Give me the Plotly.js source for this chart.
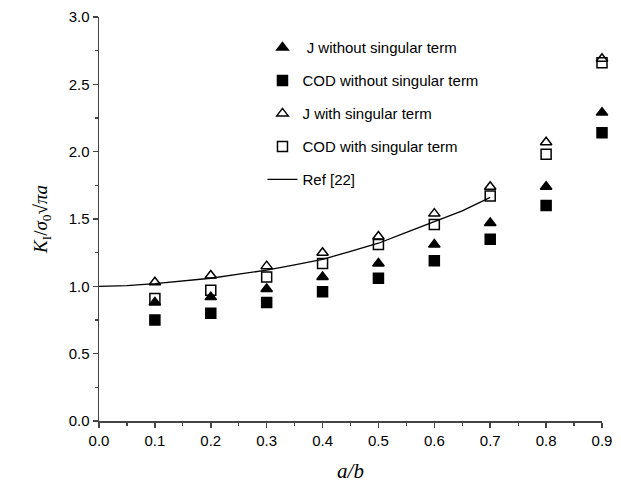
<!DOCTYPE html>
<html>
<head>
<meta charset="utf-8">
<script src="https://cdn.plot.ly/plotly-3.0.1.min.js"></script>
<style>html,body{margin:0;padding:0;background:#fff;}#chart{width:621px;height:489px;}</style>
</head>
<body>
<div id="chart"></div>
<script>
// a/b values
const ab = [0.1, 0.2, 0.3, 0.4, 0.5, 0.6, 0.7, 0.8, 0.9];
const jWithout   = [0.88, 0.92, 0.98, 1.07, 1.17, 1.31, 1.47, 1.74, 2.29];
const codWithout = [0.75, 0.80, 0.88, 0.96, 1.06, 1.19, 1.35, 1.60, 2.14];
const jWith      = [1.03, 1.08, 1.15, 1.25, 1.37, 1.54, 1.74, 2.07, 2.69];
const codWith    = [0.91, 0.97, 1.07, 1.17, 1.31, 1.46, 1.67, 1.98, 2.66];
// Ref [22] curve
const refX = [0, 0.05, 0.1, 0.15, 0.2, 0.25, 0.3, 0.35, 0.4, 0.45, 0.5, 0.55, 0.6, 0.65, 0.7];
const refY = [1.00, 1.005, 1.02, 1.04, 1.06, 1.09, 1.12, 1.16, 1.20, 1.26, 1.32, 1.40, 1.48, 1.56, 1.66];
const names = [' J without singular term', 'COD without singular term', 'J with singular term', 'COD with singular term', 'Ref [22]'];

const mk = (sym) => ({symbol: sym, size: 10, color: '#000', line: {color: '#000', width: 1.5}});
const traces = [
  {x: ab, y: jWithout, name: names[0], mode: 'markers', marker: mk('triangle-up'), legendgroup: 'a', cliponaxis: false},
  {x: ab, y: codWithout, name: names[1], mode: 'markers', marker: mk('square'), legendgroup: 'b', cliponaxis: false},
  {x: ab, y: jWith, name: names[2], mode: 'markers', marker: mk('triangle-up-open'), legendgroup: 'c', cliponaxis: false},
  {x: ab, y: codWith, name: names[3], mode: 'markers', marker: mk('square-open'), legendgroup: 'd', cliponaxis: false},
  {x: refX, y: refY, name: names[4], mode: 'lines', line: {color: '#000', width: 1.3}, legendgroup: 'e', cliponaxis: false}
];

const layout = {
  width: 621, height: 489,
  margin: {l: 99, r: 19, t: 17, b: 68},
  paper_bgcolor: '#fff', plot_bgcolor: '#fff',
  font: {family: 'Liberation Sans, Arial, sans-serif', size: 15, color: '#000'},
  showlegend: true,
  legend: {
    x: 0.325, y: 0.965, xanchor: 'left', yanchor: 'top',
    bgcolor: 'rgba(0,0,0,0)', borderwidth: 0,
    font: {family: 'Liberation Sans, Arial, sans-serif', size: 15, color: '#000'},
    traceorder: 'grouped', tracegroupgap: 10.5
  },
  xaxis: {
    range: [0, 0.9], tickvals: [0,0.1,0.2,0.3,0.4,0.5,0.6,0.7,0.8,0.9],
    ticktext: ['0.0','0.1','0.2','0.3','0.4','0.5','0.6','0.7','0.8','0.9'],
    showgrid: false, zeroline: false, showline: true, linecolor: '#444', linewidth: 1.5,
    ticks: 'outside', ticklen: 5, tickcolor: '#444', tickwidth: 1.5,
    minor: {dtick: 0.05, ticks: 'outside', ticklen: 3, tickcolor: '#444', tickwidth: 1.2},
    tickfont: {size: 15},
    title: {text: '<i>a/b</i>', font: {family: 'Liberation Serif, Times New Roman, serif', size: 21}, standoff: 16}
  },
  yaxis: {
    range: [0, 3], tickvals: [0,0.5,1,1.5,2,2.5,3],
    ticktext: ['0.0','0.5','1.0','1.5','2.0','2.5','3.0'],
    showgrid: false, zeroline: false, showline: true, linecolor: '#444', linewidth: 1.5,
    ticks: 'outside', ticklen: 5, tickcolor: '#444', tickwidth: 1.5,
    minor: {dtick: 0.25, ticks: 'outside', ticklen: 3, tickcolor: '#444', tickwidth: 1.2},
    tickfont: {size: 15},
    title: {text: '<i>K</i><sub>I</sub>/<i>σ</i><sub>0</sub>√<i>πa</i>', font: {family: 'Liberation Serif, Times New Roman, serif', size: 19}, standoff: 16}
  }
};

Plotly.newPlot('chart', traces, layout, {displayModeBar: false, staticPlot: true});
</script>
</body>
</html>
